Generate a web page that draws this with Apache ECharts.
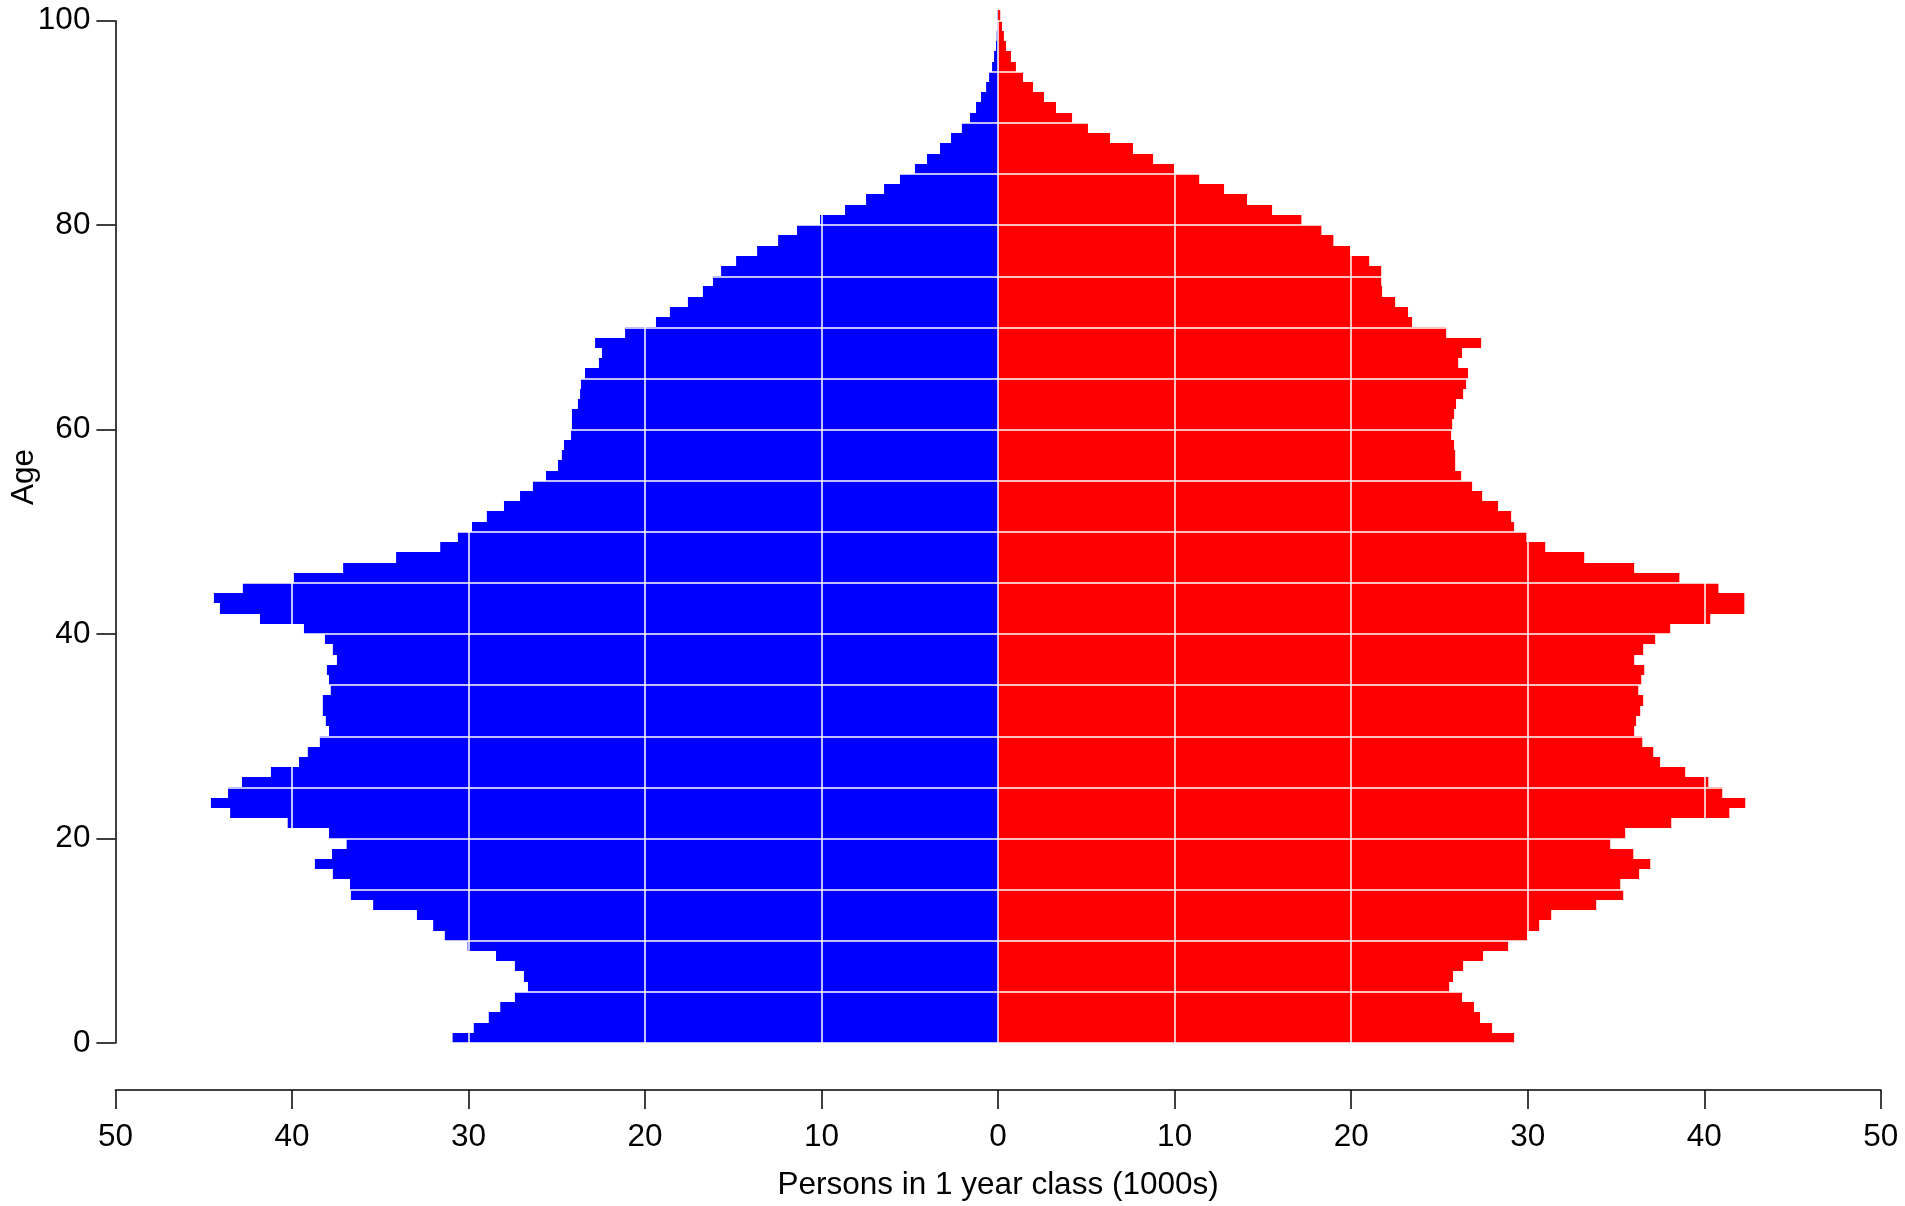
<!DOCTYPE html>
<html>
<head>
<meta charset="utf-8">
<script src="https://cdn.jsdelivr.net/npm/echarts@6/dist/echarts.min.js"></script>
<style>
  html, body { margin: 0; padding: 0; background: #fff; }
  #chart { width: 1905px; height: 1206px; }
</style>
</head>
<body>
<div id="chart"></div>
<script>
// age classes 0..100 (100 = 100+)
var ages = [];
for (var i = 0; i <= 100; i++) ages.push(i);

// persons in 1 year class, 1000s
var males = [
  30.9, 29.7, 28.85, 28.2, 27.37, 26.63, 26.86, 27.37, 28.44, 30.05,
  31.34, 32.0, 32.92, 35.4, 36.66, 36.71, 37.68, 38.7, 37.73, 36.9,
  37.9, 40.24, 43.5, 44.59, 43.62, 42.83, 41.19, 39.6, 39.1, 38.42,
  37.9, 38.08, 38.25, 38.25, 37.8, 37.9, 38.02, 37.45, 37.68, 38.13,
  39.32, 41.81, 44.08, 44.42, 42.78, 39.89, 37.1, 34.1, 31.6, 30.6,
  29.8, 28.96, 27.99, 27.08, 26.35, 25.61, 24.93, 24.71, 24.59, 24.19,
  24.14, 24.14, 23.8, 23.68, 23.63, 23.4, 22.61, 22.44, 22.83, 21.13,
  19.38, 18.59, 17.57, 16.72, 16.15, 15.69, 14.84, 13.65, 12.46, 11.39,
  10.09, 8.67, 7.48, 6.46, 5.56, 4.71, 4.03, 3.29, 2.67, 2.05,
  1.59, 1.25, 0.97, 0.68, 0.51, 0.34, 0.23, 0.12, 0.08, 0.05,
  0.02
];
var females = [
  29.23, 27.98, 27.3, 26.96, 26.28, 25.55, 25.77, 26.34, 27.47, 28.89,
  29.97, 30.65, 31.33, 33.88, 35.41, 35.24, 36.31, 36.94, 35.98, 34.67,
  35.52, 38.13, 41.42, 42.32, 41.02, 40.23, 38.92, 37.5, 37.11, 36.49,
  36.03, 36.14, 36.37, 36.54, 36.26, 36.43, 36.6, 36.03, 36.54, 37.22,
  38.07, 40.34, 42.27, 42.27, 40.8, 38.59, 36.03, 33.2, 30.99, 29.92,
  29.23, 29.06, 28.32, 27.42, 26.85, 26.23, 25.89, 25.89, 25.83, 25.66,
  25.72, 25.83, 25.94, 26.34, 26.51, 26.62, 26.06, 26.28, 27.36, 25.38,
  23.45, 23.22, 22.49, 21.75, 21.7, 21.7, 21.02, 19.95, 18.99, 18.31,
  17.18, 15.52, 14.1, 12.8, 11.39, 9.97, 8.78, 7.64, 6.34, 5.09,
  4.19, 3.28, 2.6, 1.98, 1.41, 1.01, 0.73, 0.45, 0.33, 0.22,
  0.12
];

var xTickLabels = ['50', '40', '30', '20', '10', '0', '10', '20', '30', '40', '50'];
var yTickLabels = ['0', '20', '40', '60', '80', '100'];
var vGrid = [-40, -30, -20, -10, 0, 10, 20, 30, 40];
var hGrid = [];
for (var h = 0; h <= 100; h += 5) hGrid.push(h);

var FONT = "'Liberation Sans', Arial, Helvetica, sans-serif";

function barItem(color) {
  return function (params, api) {
    var age = api.value(0), v = api.value(1);
    var a = api.coord([Math.min(v, 0), age + 1]);
    var b = api.coord([Math.max(v, 0), age]);
    var y0 = Math.round(a[1]), y1 = Math.round(b[1]);
    return {
      type: 'rect',
      shape: { x: a[0], y: y0, width: b[0] - a[0], height: y1 - y0 },
      style: { fill: color }
    };
  };
}

var chart = echarts.init(document.getElementById('chart'));
chart.setOption({
  animation: false,
  backgroundColor: '#fff',
  textStyle: { fontFamily: FONT },
  grid: { left: 115.4, right: 24.2, top: 20.7, bottom: 161.1 },
  xAxis: {
    type: 'value', min: -50, max: 50, interval: 10, offset: 47, z: 10,
    axisLine: { onZero: false, lineStyle: { color: '#000', width: 1.5 } },
    axisTick: { length: 19, lineStyle: { color: '#000', width: 1.5 } },
    axisLabel: {
      fontSize: 31.5, color: '#000', margin: 31, fontFamily: FONT,
      formatter: function (v) { return xTickLabels[Math.round((v + 50) / 10)]; }
    },
    splitLine: { show: false },
    name: 'Persons in 1 year class (1000s)',
    nameLocation: 'middle', nameGap: 79,
    nameTextStyle: { fontSize: 31.5, color: '#000', fontFamily: FONT }
  },
  yAxis: {
    type: 'value', min: 0, max: 100, interval: 20, z: 10,
    axisLine: { show: true, onZero: false, lineStyle: { color: '#000', width: 1.5 } },
    axisTick: { show: true, length: 19, lineStyle: { color: '#000', width: 1.5 } },
    axisLabel: {
      fontSize: 31.5, color: '#000', margin: 25, fontFamily: FONT,
      formatter: function (v) { return yTickLabels[Math.round(v / 20)]; }
    },
    splitLine: { show: false }
  },
  graphic: [{
    type: 'text', x: 24, y: 477, rotation: Math.PI / 2,
    style: { text: 'Age', fontSize: 31.5, fill: '#000', fontFamily: FONT, align: 'center', verticalAlign: 'middle' }
  }],
  series: [
    {
      type: 'custom', name: 'Males',
      data: ages.map(function (a, i) { return [a, -males[i]]; }),
      encode: { x: 1, y: 0 },
      renderItem: barItem('#0000ff')
    },
    {
      type: 'custom', name: 'Females',
      data: ages.map(function (a, i) { return [a, females[i]]; }),
      encode: { x: 1, y: 0 },
      renderItem: barItem('#ff0000'),
      markLine: {
        silent: true, symbol: 'none', animation: false,
        label: { show: false },
        lineStyle: { color: '#fff', width: 1.5, type: 'solid', opacity: 1 },
        data: vGrid.map(function (v) { return { xAxis: v }; })
          .concat(hGrid.map(function (a) { return { yAxis: a }; }))
      }
    }
  ]
});
</script>
</body>
</html>
